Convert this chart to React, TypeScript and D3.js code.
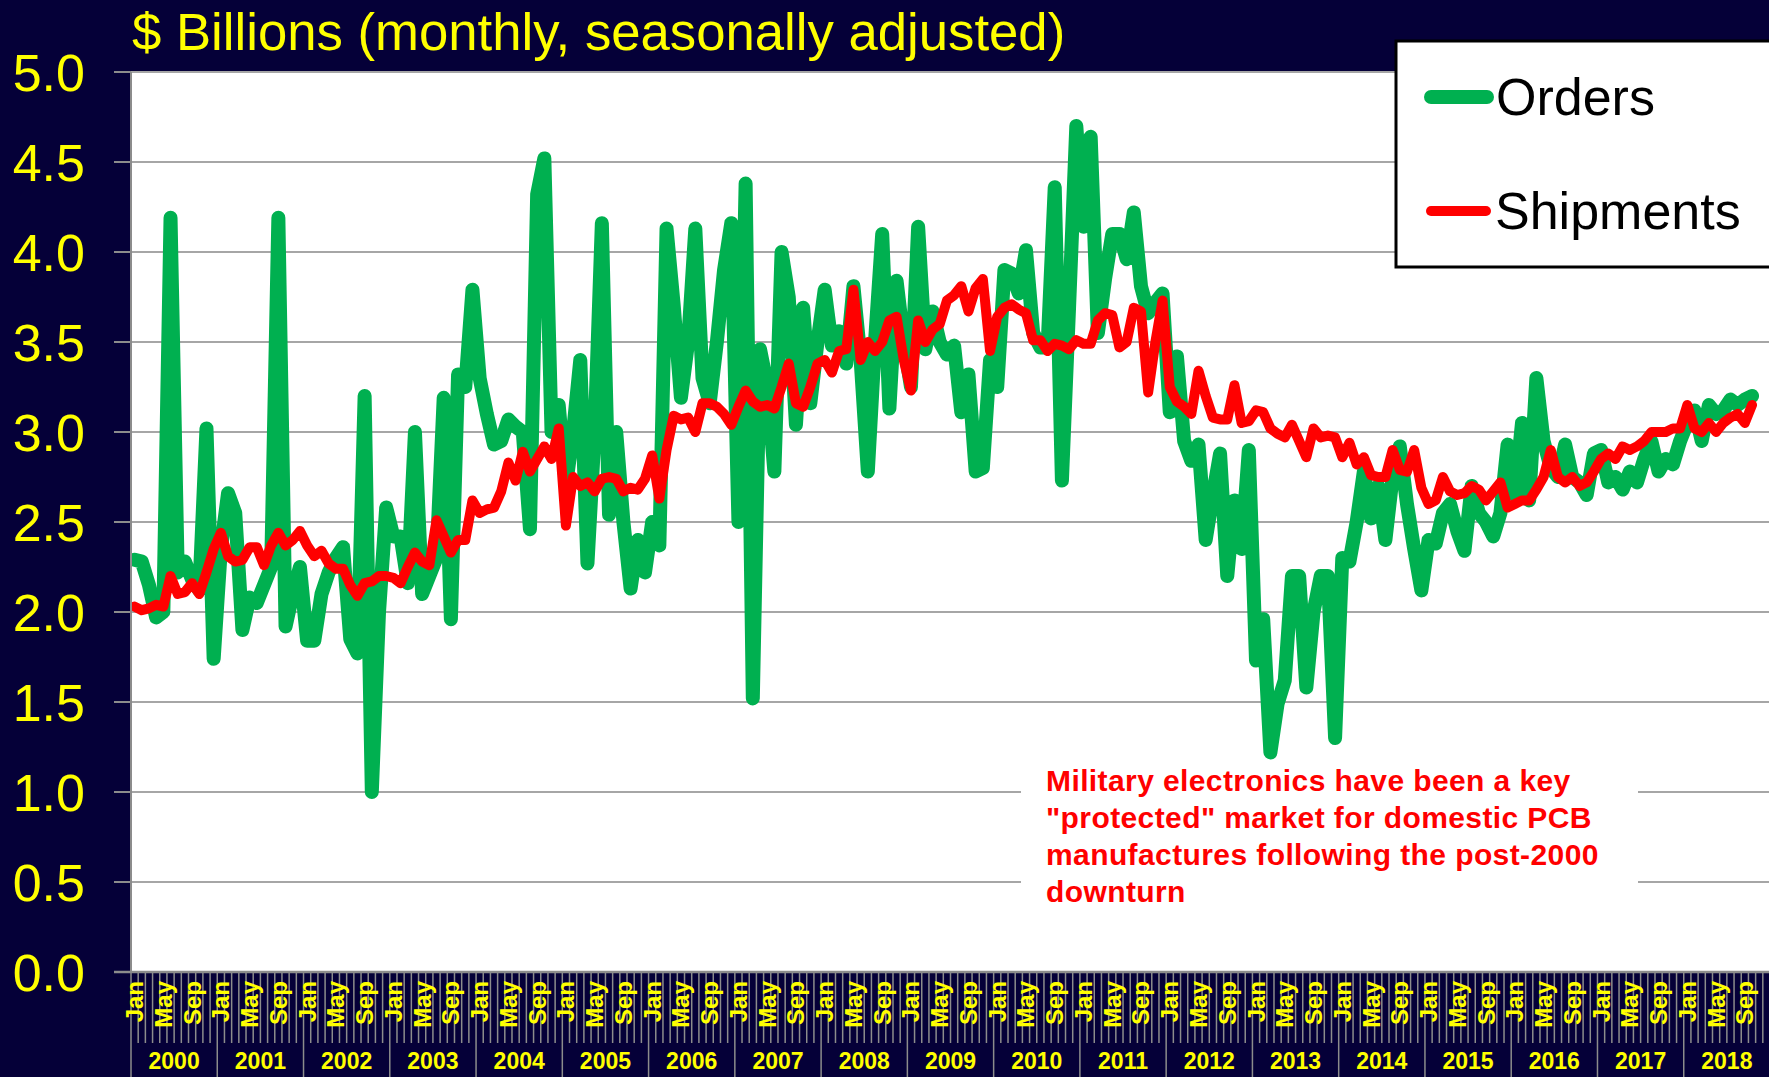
import React from 'react';
import * as d3 from 'd3';

const years = ['2000','2001','2002','2003','2004','2005','2006','2007','2008','2009','2010','2011','2012','2013','2014','2015','2016','2017','2018'];
const monthNames = ['Jan','Feb','Mar','Apr','May','Jun','Jul','Aug','Sep','Oct','Nov','Dec'];
const labeledMonths = ['Jan','May','Sep'];
const yTicks = [0,0.5,1,1.5,2,2.5,3,3.5,4,4.5,5];

const orders = [
  2.29,2.28,2.15,1.97,2.0,4.19,2.22,2.28,2.18,2.12,3.02,1.74,
  2.35,2.66,2.55,1.90,2.08,2.05,2.15,2.25,4.19,1.92,2.1,2.25,
  1.84,1.84,2.1,2.22,2.3,2.36,1.85,1.77,3.2,1.0,2.0,2.58,
  2.42,2.42,2.16,3.0,2.1,2.2,2.3,3.19,1.96,3.32,3.25,3.79,
  3.3,3.1,2.93,2.95,3.07,3.03,3.0,2.46,4.32,4.52,3.0,3.15,
  2.7,3.0,3.4,2.27,3.0,4.16,2.54,3.0,2.5,2.13,2.4,2.22,
  2.5,2.37,4.13,3.7,3.19,3.5,4.13,3.3,3.16,3.5,3.9,4.16,
  2.5,4.38,1.52,3.46,3.26,2.78,4.0,3.75,3.04,3.69,3.16,3.5,
  3.79,3.48,3.56,3.38,3.81,3.4,2.78,3.5,4.1,3.13,3.84,3.5,
  3.25,4.14,3.46,3.67,3.5,3.43,3.48,3.11,3.32,2.78,2.8,3.4,
  3.25,3.9,3.88,3.77,4.01,3.55,3.47,3.47,4.36,2.73,3.7,4.70,
  4.14,4.64,3.55,3.85,4.1,4.1,3.96,4.22,3.81,3.66,3.72,3.77,
  3.11,3.42,2.95,2.84,2.93,2.4,2.65,2.88,2.2,2.62,2.35,2.9,
  1.73,1.96,1.22,1.49,1.62,2.2,2.2,1.58,2.0,2.2,2.2,1.3,
  2.3,2.28,2.5,2.78,2.52,2.7,2.4,2.75,2.92,2.6,2.35,2.12,
  2.4,2.38,2.55,2.6,2.45,2.34,2.7,2.55,2.5,2.42,2.55,2.93,
  2.65,3.05,2.62,3.3,2.95,2.8,2.75,2.93,2.75,2.72,2.65,2.88,
  2.9,2.72,2.75,2.68,2.78,2.72,2.85,2.95,2.78,2.85,2.82,2.95,
  3.05,3.12,2.95,3.15,3.1,3.12,3.18,3.15,3.18,3.2
];

const shipments = [
  2.03,2.01,2.02,2.04,2.03,2.2,2.1,2.11,2.16,2.1,2.22,2.35,
  2.44,2.31,2.28,2.29,2.36,2.36,2.26,2.37,2.44,2.37,2.4,2.45,
  2.37,2.31,2.34,2.27,2.24,2.24,2.15,2.09,2.16,2.17,2.2,2.2,
  2.19,2.16,2.25,2.33,2.28,2.26,2.51,2.42,2.33,2.4,2.4,2.62,
  2.55,2.57,2.58,2.67,2.83,2.73,2.89,2.78,2.85,2.92,2.85,3.02,
  2.48,2.75,2.7,2.72,2.67,2.74,2.75,2.74,2.67,2.69,2.68,2.74,
  2.87,2.63,2.9,3.09,3.07,3.08,3.0,3.16,3.16,3.14,3.1,3.04,
  3.14,3.23,3.17,3.14,3.15,3.13,3.25,3.38,3.16,3.14,3.25,3.38,
  3.4,3.33,3.45,3.46,3.79,3.4,3.5,3.45,3.5,3.62,3.64,3.4,
  3.23,3.62,3.5,3.57,3.6,3.73,3.76,3.81,3.67,3.8,3.85,3.45,
  3.64,3.69,3.71,3.68,3.66,3.51,3.51,3.45,3.49,3.48,3.46,3.51,
  3.49,3.49,3.62,3.66,3.65,3.47,3.5,3.69,3.67,3.22,3.5,3.73,
  3.25,3.17,3.14,3.1,3.34,3.2,3.08,3.07,3.07,3.26,3.05,3.06,
  3.12,3.11,3.02,2.99,2.97,3.04,2.95,2.86,3.02,2.97,2.98,2.97,
  2.86,2.94,2.82,2.86,2.76,2.75,2.75,2.9,2.79,2.78,2.9,2.69,
  2.6,2.62,2.75,2.67,2.65,2.66,2.7,2.68,2.62,2.67,2.72,2.58,
  2.6,2.62,2.62,2.68,2.75,2.9,2.75,2.72,2.75,2.7,2.72,2.78,
  2.85,2.88,2.85,2.92,2.9,2.92,2.95,3.0,3.0,3.0,3.02,3.02,
  3.15,3.02,3.0,3.05,3.0,3.05,3.08,3.1,3.05,3.15
];

const titleText = '$ Billions (monthly, seasonally adjusted)';
const seriesNames = ['Orders', 'Shipments'];
const annotationLines = [
  'Military electronics have been a key',
  '"protected" market for domestic PCB',
  'manufactures following the post-2000',
  'downturn'
];

const BG = '#050038';
const GREEN = '#00B050';
const RED = '#FF0000';
const YELLOW = '#FFFF00';
const FONT = '"Liberation Sans", Arial, sans-serif';

export default function App() {
  const W = 1769, H = 1077;
  const left = 131, right = 1770, top = 72, bottom = 972;
  const categories = years.flatMap(yr => monthNames.map(m => `${m} ${yr}`));
  const x = d3.scaleBand<string>().domain(categories).range([left, right]).paddingInner(0).paddingOuter(0);
  const bw = x.bandwidth();
  const y = d3.scaleLinear().domain([0, 5]).range([bottom, top]);
  const cx = (i: number) => (x(categories[i]) as number) + bw / 2;
  const line = d3.line<number>().x((_, i) => cx(i)).y(d => y(d));

  const boundaries = d3.range(categories.length + 1).map(k => left + k * bw);

  return (
    <svg width={W} height={H} style={{ position: 'absolute', left: 0, top: 0, display: 'block' }} fontFamily={FONT}>
      <defs>
        <clipPath id="plotClip">
          <rect x={left} y={top} width={right - left} height={bottom - top} />
        </clipPath>
      </defs>
      <rect x={0} y={0} width={W} height={H} fill={BG} />
      <rect x={left} y={top} width={right - left} height={bottom - top} fill="#FFFFFF" />

      {/* gridlines */}
      {yTicks.filter(t => t > 0).map(t => (
        <line key={'g' + t} x1={left} x2={right} y1={y(t)} y2={y(t)} stroke="#A6A6A6" strokeWidth={2} />
      ))}
      {/* y ticks */}
      {yTicks.map(t => (
        <line key={'yt' + t} x1={114} x2={left} y1={y(t)} y2={y(t)} stroke="#8C8C8C" strokeWidth={2} />
      ))}
      {yTicks.map(t => (
        <text key={'yl' + t} x={85} y={y(t) + 18.5} textAnchor="end" fontSize={52} fill={YELLOW}>{t.toFixed(1)}</text>
      ))}

      {/* annotation background */}
      <rect x={1021} y={756} width={617} height={158} fill="#FFFFFF" />

      {/* series */}
      <g clipPath="url(#plotClip)">
        <path d={line(orders) || ''} fill="none" stroke={GREEN} strokeWidth={14} strokeLinejoin="round" strokeLinecap="round" />
        <path d={line(shipments) || ''} fill="none" stroke={RED} strokeWidth={10} strokeLinejoin="round" strokeLinecap="round" />
      </g>

      {/* axes */}
      <line x1={left} x2={left} y1={top} y2={bottom} stroke="#8C8C8C" strokeWidth={2} />
      <line x1={114} x2={right} y1={bottom} y2={bottom} stroke="#8C8C8C" strokeWidth={2.5} />
      {boundaries.map((bx, k) => (
        <line key={'mt' + k} x1={bx} x2={bx} y1={bottom} y2={k % 12 === 0 ? H : 1043} stroke="#8C8C8C" strokeWidth={1.5} />
      ))}
      {categories.map((c, i) => {
        const m = c.split(' ')[0];
        if (!labeledMonths.includes(m)) return null;
        const px = cx(i);
        return (
          <text key={'ml' + i} transform={`translate(${px + 8.5},981) rotate(-90)`} textAnchor="end" fontSize={24} fontWeight="bold" fill={YELLOW}>{m}</text>
        );
      })}
      {years.map((yr, k) => (
        <text key={'yr' + yr} x={left + (k * 12 + 6) * bw} y={1069} textAnchor="middle" fontSize={23} fontWeight="bold" fill={YELLOW}>{yr}</text>
      ))}

      {/* title */}
      <text x={132} y={50} fontSize={52.7} fill={YELLOW}>{titleText}</text>

      {/* annotation */}
      {annotationLines.map((t, k) => (
        <text key={'an' + k} x={1046} y={791 + k * 37} fontSize={30} fontWeight="bold" fill={RED} letterSpacing={0.4}>{t}</text>
      ))}

      {/* legend */}
      <rect x={1396} y={41} width={400} height={226} fill="#FFFFFF" stroke="#000000" strokeWidth={3} />
      <line x1={1431} x2={1487} y1={97} y2={97} stroke={GREEN} strokeWidth={14} strokeLinecap="round" />
      <text x={1496} y={115} fontSize={52} fill="#000000">{seriesNames[0]}</text>
      <line x1={1431} x2={1486} y1={211} y2={211} stroke={RED} strokeWidth={10} strokeLinecap="round" />
      <text x={1495} y={229} fontSize={52} fill="#000000">{seriesNames[1]}</text>
    </svg>
  );
}
